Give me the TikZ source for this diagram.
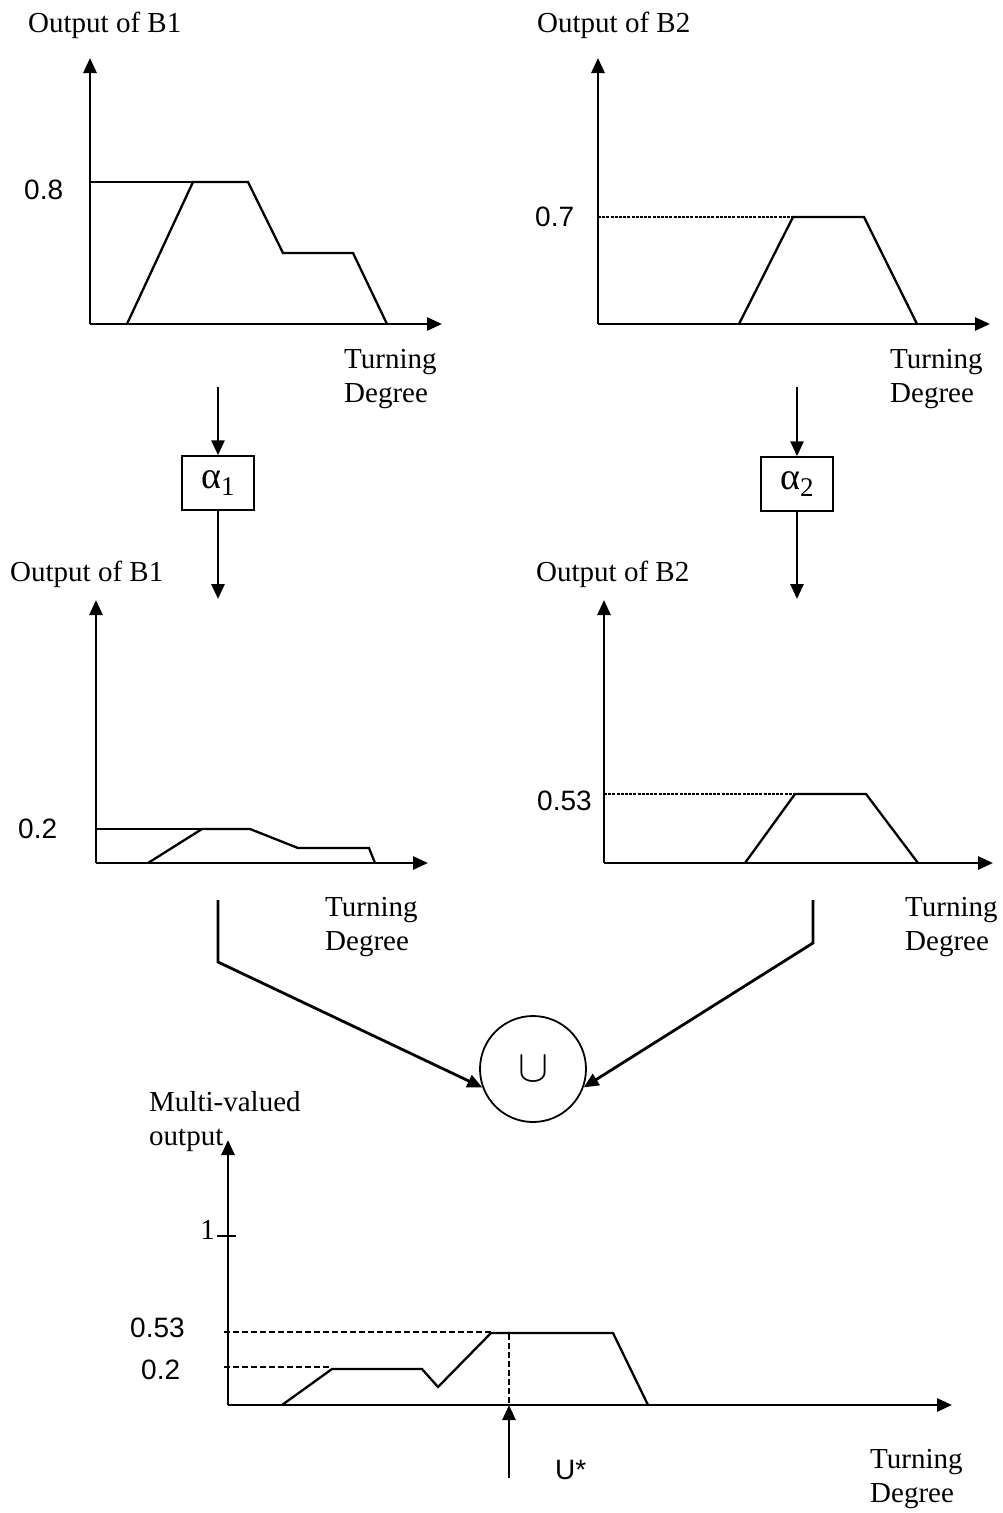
\documentclass[tikz,border=0pt]{standalone}
\usepackage{fontspec}
\setmainfont{Liberation Serif}
\newfontfamily\arialf{Liberation Sans}
\usetikzlibrary{arrows.meta}
\newcommand{\gainsym}[1]{{\fontsize{38}{38}\selectfont α\raisebox{-7pt}{\fontsize{27}{27}\selectfont #1}}}
\begin{document}
\begin{tikzpicture}[x=1pt,y=-1pt,
  axis/.style={line width=2.8pt,-{Triangle[length=15pt,width=13pt]}},
  flow/.style={line width=2.8pt,-{Triangle[length=15pt,width=13pt]}},
  curve/.style={line width=2.3pt,line join=miter},
  guide/.style={line width=1.5pt,dash pattern=on 3pt off 1.2pt},
  dguide/.style={line width=1.7pt,dash pattern=on 6pt off 3pt},
  lbl/.style={font=\fontsize{29}{34}\selectfont,inner sep=0pt,anchor=west,align=left},
  num/.style={font=\arialf\fontsize{28}{34}\selectfont,inner sep=0pt,anchor=west},
  gain/.style={draw,line width=1.5pt,minimum width=72pt,minimum height=54pt,inner sep=0pt},
  unionop/.style={draw,circle,line width=1.8pt,minimum size=106pt,inner sep=0pt}
]
\useasboundingbox (0,0) rectangle (1002,1513);

% ---------- chart A (top left) ----------
\coordinate (oA) at (90,324);
\coordinate (yA) at (90,58);
\coordinate (xA) at (442,324);
\draw[axis] (oA) -- (yA);
\draw[axis] (oA) -- (xA);
\draw[curve] (90,182) -- (193,182);
\draw[curve] (127,324) -- (193,182) -- (248,182) -- (283,253) -- (353,253) -- (387,324);
\node[lbl] (tA) at (28,25) {Output of B1};
\node[num] (vA) at (24,190) {0.8};
\node[lbl] (dA) at (344,379) {Turning\\Degree};

% ---------- chart B (top right) ----------
\coordinate (oB) at (598,324);
\coordinate (yB) at (598,58);
\coordinate (xB) at (990,324);
\draw[axis] (oB) -- (yB);
\draw[axis] (oB) -- (xB);
\draw[guide] (598,217) -- (793,217);
\draw[curve] (739,324) -- (793,217) -- (864,217) -- (917,324);
\node[lbl] (tB) at (537,25) {Output of B2};
\node[num] (vB) at (535,217) {0.7};
\node[lbl] (dB) at (890,379) {Turning\\Degree};

% ---------- weighting boxes ----------
\node[gain] (a1) at (218,483) {\gainsym{1}};
\node[gain] (a2) at (797,484) {\gainsym{2}};
\coordinate (inA) at (218,387);
\coordinate (outA) at (218,599);
\coordinate (inB) at (797,387);
\coordinate (outB) at (797,599);
\draw[flow] (inA) -- (a1);
\draw[flow] (a1) -- (outA);
\draw[flow] (inB) -- (a2);
\draw[flow] (a2) -- (outB);

% ---------- chart C (middle left) ----------
\coordinate (oC) at (96,863);
\coordinate (yC) at (96,600);
\coordinate (xC) at (428,863);
\draw[axis] (oC) -- (yC);
\draw[axis] (oC) -- (xC);
\draw[curve] (96,829) -- (202,829);
\draw[curve] (148,863) -- (202,829) -- (250,829) -- (298,848) -- (369,848) -- (375,863);
\node[lbl] (tC) at (10,574) {Output of B1};
\node[num] (vC) at (18,829) {0.2};
\node[lbl] (dC) at (325,927) {Turning\\Degree};

% ---------- chart D (middle right) ----------
\coordinate (oD) at (604,863);
\coordinate (yD) at (604,600);
\coordinate (xD) at (993,863);
\draw[axis] (oD) -- (yD);
\draw[axis] (oD) -- (xD);
\draw[guide] (604,794) -- (795,794);
\draw[curve] (745,863) -- (795,794) -- (866,794) -- (918,863);
\node[lbl] (tD) at (536,574) {Output of B2};
\node[num] (vD) at (537,801) {0.53};
\node[lbl] (dD) at (905,927) {Turning\\Degree};

% ---------- union operator ----------
\node[unionop] (u) at (533,1069) {\raisebox{-8pt}{\resizebox{30pt}{!}{$\cup$}}};
\coordinate (cL1) at (218,900);
\coordinate (cL2) at (218,962);
\coordinate (cR1) at (813,900);
\coordinate (cR2) at (813,943);
\draw[flow,line join=miter] (cL1) -- (cL2) -- (u.200);
\draw[flow,line join=miter] (cR1) -- (cR2) -- (u.340);

% ---------- chart E (bottom) ----------
\coordinate (oE) at (228,1405);
\coordinate (yE) at (228,1140);
\coordinate (xE) at (952,1405);
\draw[axis] (oE) -- (yE);
\draw[axis] (oE) -- (xE);
\draw[line width=1.8pt] (217,1236) -- (236,1236);
\draw[dguide] (224,1332) -- (491,1332);
\draw[dguide] (224,1367) -- (330,1367);
\draw[dguide] (509,1334) -- (509,1405);
\draw[curve] (282,1405) -- (332,1369) -- (422,1369) -- (438,1387) -- (491,1333) -- (613,1333) -- (648,1405);
\node[lbl] (tE) at (149,1122) {Multi-valued\\output};
\node[lbl,anchor=east] (one) at (215,1230) {1};
\node[num] (vE1) at (130,1328) {0.53};
\node[num] (vE2) at (141,1370) {0.2};
\coordinate (us0) at (509,1478);
\coordinate (us1) at (509,1405);
\draw[flow] (us0) -- (us1);
\node[num] (ustar) at (555,1470) {U*};
\node[lbl] (dE) at (870,1479) {Turning\\Degree};
\end{tikzpicture}
\end{document}
